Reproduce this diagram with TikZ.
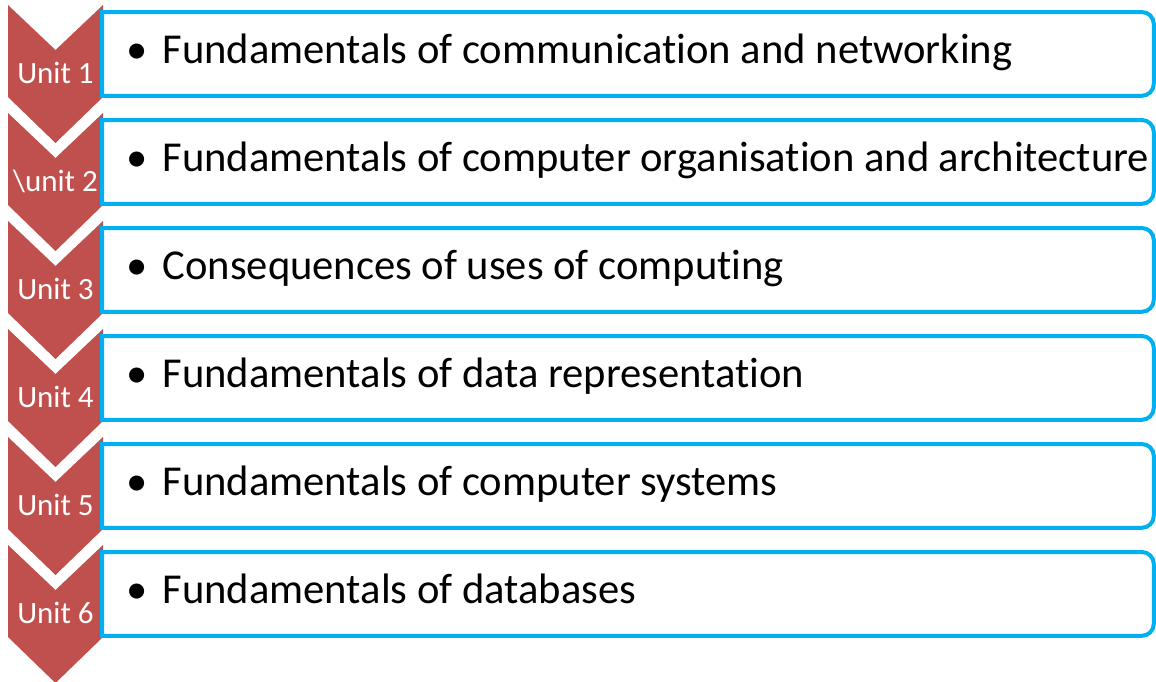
\documentclass[tikz,border=0pt]{standalone}
\usepackage{fontspec}
\setmainfont{Carlito}[Ligatures=NoCommon]
\usetikzlibrary{calc}

\definecolor{chevronred}{HTML}{C0504D}
\definecolor{boxblue}{HTML}{00B0F0}

\begin{document}
\begin{tikzpicture}[x=0.5pt,y=-0.5pt,
  chevron/.style={fill=chevronred},
  unitbox/.style={rectangle,minimum width=525.5pt,minimum height=41.5pt,inner sep=0pt,anchor=north west},
  boxline/.style={draw=boxblue,fill=white,line width=2pt},
  unitlabel/.style={text=white,font=\fontsize{15.5}{18}\selectfont,anchor=base,inner sep=0pt},
  topic/.style={font=\fontsize{21.3}{25}\selectfont,anchor=base west,inner sep=0pt}]
\useasboundingbox (0,0) rectangle (1156,681);

\fill[chevron] (8,5) -- (55.5,50) -- (103,5) -- (103,97) -- (55.5,143) -- (8,97) -- cycle;
\fill[chevron] (8,113) -- (55.5,158) -- (103,113) -- (103,205) -- (55.5,251) -- (8,205) -- cycle;
\fill[chevron] (8,221) -- (55.5,266) -- (103,221) -- (103,313) -- (55.5,359) -- (8,313) -- cycle;
\fill[chevron] (8,329) -- (55.5,374) -- (103,329) -- (103,421) -- (55.5,467) -- (8,421) -- cycle;
\fill[chevron] (8,437) -- (55.5,482) -- (103,437) -- (103,529) -- (55.5,575) -- (8,529) -- cycle;
\fill[chevron] (8,545) -- (55.5,590) -- (103,545) -- (103,637) -- (55.5,683) -- (8,637) -- cycle;

\node [unitbox](unit1) at (102,12){};
\node [unitbox](unit2) at (102,120){};
\node [unitbox](unit3) at (102,228){};
\node [unitbox](unit4) at (102,336){};
\node [unitbox](unit5) at (102,444){};
\node [unitbox](unit6) at (102,552){};

% boxes: square on the left, rounded on the right
\draw[boxline] (unit1.south west) -- (unit1.north west) -- ([xshift=-6pt]unit1.north east) arc[start angle=90,end angle=0,radius=6pt] -- ([yshift=6pt]unit1.south east) arc[start angle=0,end angle=-90,radius=6pt] -- cycle;
\draw[boxline] (unit2.south west) -- (unit2.north west) -- ([xshift=-6pt]unit2.north east) arc[start angle=90,end angle=0,radius=6pt] -- ([yshift=6pt]unit2.south east) arc[start angle=0,end angle=-90,radius=6pt] -- cycle;
\draw[boxline] (unit3.south west) -- (unit3.north west) -- ([xshift=-6pt]unit3.north east) arc[start angle=90,end angle=0,radius=6pt] -- ([yshift=6pt]unit3.south east) arc[start angle=0,end angle=-90,radius=6pt] -- cycle;
\draw[boxline] (unit4.south west) -- (unit4.north west) -- ([xshift=-6pt]unit4.north east) arc[start angle=90,end angle=0,radius=6pt] -- ([yshift=6pt]unit4.south east) arc[start angle=0,end angle=-90,radius=6pt] -- cycle;
\draw[boxline] (unit5.south west) -- (unit5.north west) -- ([xshift=-6pt]unit5.north east) arc[start angle=90,end angle=0,radius=6pt] -- ([yshift=6pt]unit5.south east) arc[start angle=0,end angle=-90,radius=6pt] -- cycle;
\draw[boxline] (unit6.south west) -- (unit6.north west) -- ([xshift=-6pt]unit6.north east) arc[start angle=90,end angle=0,radius=6pt] -- ([yshift=6pt]unit6.south east) arc[start angle=0,end angle=-90,radius=6pt] -- cycle;

% unit labels on the chevrons
\node [unitlabel](label1) at ($ (unit1.west)+(-46.5,29.5) $){Unit 1};
\node [unitlabel](label2) at ($ (unit2.west)+(-46.5,29.5) $){\textbackslash unit 2};
\node [unitlabel](label3) at ($ (unit3.west)+(-46.5,29.5) $){Unit 3};
\node [unitlabel](label4) at ($ (unit4.west)+(-46.5,29.5) $){Unit 4};
\node [unitlabel](label5) at ($ (unit5.west)+(-46.5,29.5) $){Unit 5};
\node [unitlabel](label6) at ($ (unit6.west)+(-46.5,29.5) $){Unit 6};

% topics
\node [topic](topic1) at ($ (unit1.west)+(24,9.5) $){\textbullet\hspace{7.5pt}Fundamentals of communication and networking};
\node [topic](topic2) at ($ (unit2.west)+(24,9.5) $){\textbullet\hspace{7.5pt}Fundamentals of computer organisation and architecture};
\node [topic](topic3) at ($ (unit3.west)+(24,9.5) $){\textbullet\hspace{7.5pt}Consequences of uses of computing};
\node [topic](topic4) at ($ (unit4.west)+(24,9.5) $){\textbullet\hspace{7.5pt}Fundamentals of data representation};
\node [topic](topic5) at ($ (unit5.west)+(24,9.5) $){\textbullet\hspace{7.5pt}Fundamentals of computer systems};
\node [topic](topic6) at ($ (unit6.west)+(24,9.5) $){\textbullet\hspace{7.5pt}Fundamentals of databases};

\end{tikzpicture}
\end{document}
